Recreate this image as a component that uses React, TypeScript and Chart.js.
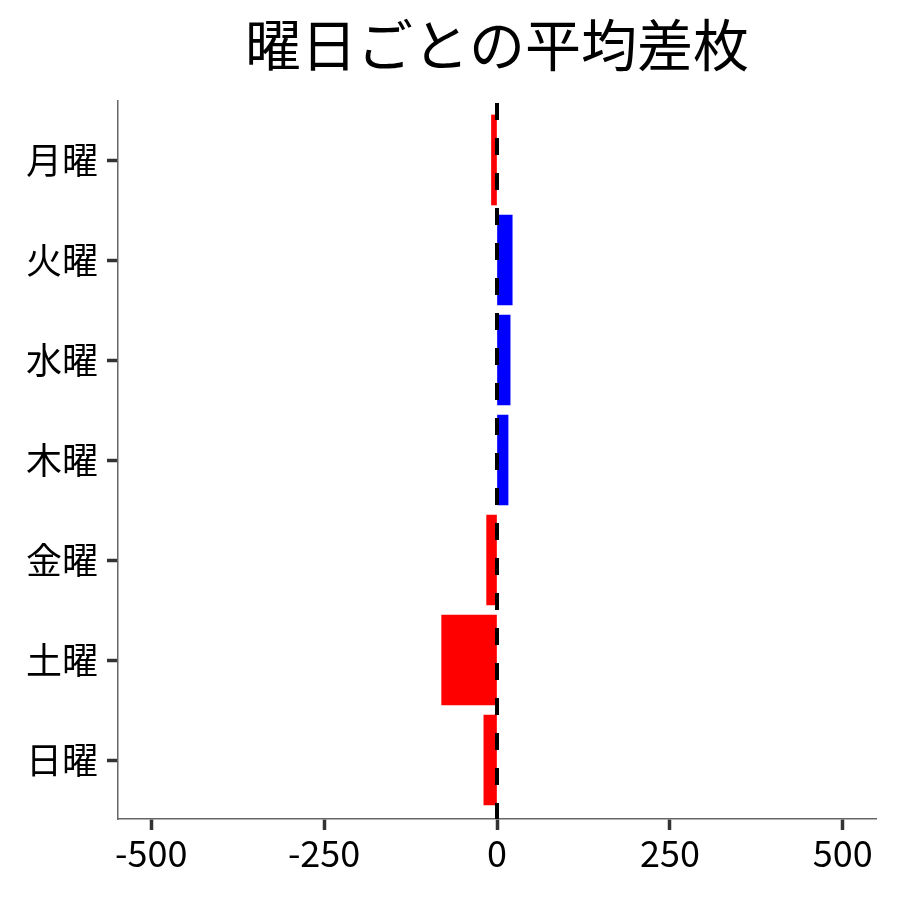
import { useEffect, useRef } from "react"
import { Chart, registerables } from "chart.js"

Chart.register(...registerables)

// Data
const days = ["月曜", "火曜", "水曜", "木曜", "金曜", "土曜", "日曜"]
const avgDiff = [-8, 22, 19, 16, -15, -80, -19]
const xTicks = [-500, -250, 0, 250, 500]
const titleText = "曜日ごとの平均差枚"

const FONT = "'Noto Sans CJK JP', 'Noto Sans', sans-serif"

// dashed zero line drawn on top of the bars
const zeroLine = {
  id: "zeroLine",
  afterDatasetsDraw(chart: any) {
    const { ctx, chartArea, scales } = chart
    const x = scales.x.getPixelForValue(0)
    ctx.save()
    ctx.strokeStyle = "#000"
    ctx.lineWidth = 4
    ctx.setLineDash([17, 18])
    ctx.lineDashOffset = -6
    ctx.beginPath()
    ctx.moveTo(x, chartArea.top - 4)
    ctx.lineTo(x, chartArea.bottom)
    ctx.stroke()
    ctx.restore()
  },
}

// title centred over the plot area rather than the canvas
const plotTitle = {
  id: "plotTitle",
  afterDraw(chart: any) {
    const { ctx, chartArea } = chart
    ctx.save()
    ctx.fillStyle = "#000"
    ctx.font = `56px ${FONT}`
    ctx.textAlign = "center"
    ctx.textBaseline = "middle"
    ctx.fillText(titleText, (chartArea.left + chartArea.right) / 2, 45)
    ctx.restore()
  },
}

export default function App() {
  const chartRef = useRef<HTMLCanvasElement>(null)
  const chartInstance = useRef<Chart | null>(null)

  useEffect(() => {
    document.body.style.margin = "0"
    if (!chartRef.current) return
    if (chartInstance.current) chartInstance.current.destroy()

    const ctx = chartRef.current.getContext("2d")
    if (!ctx) return

    chartInstance.current = new Chart(ctx, {
      type: "bar",
      data: {
        datasets: [
          {
            data: avgDiff.map((v, i) => ({ x: v, y: i })),
            backgroundColor: avgDiff.map((v) => (v < 0 ? "#ff0000" : "#0000ff")),
            borderWidth: 0,
            barThickness: 90,
          },
        ],
      },
      options: {
        indexAxis: "y",
        responsive: false,
        animation: false,
        layout: { padding: { left: 0, right: 24, top: 101, bottom: 0 } },
        plugins: {
          legend: { display: false },
          tooltip: { enabled: false },
          title: { display: false },
        },
        scales: {
          x: {
            type: "linear",
            min: -548,
            max: 548,
            afterBuildTicks: (scale: any) => {
              scale.ticks = xTicks.map((v) => ({ value: v }))
            },
            afterFit: (scale: any) => {
              scale.height = 81
            },
            grid: {
              drawOnChartArea: false,
              drawTicks: true,
              tickLength: 11,
              tickColor: "#333",
              tickWidth: 3.5,
            },
            border: { color: "#666", width: 1.5 },
            ticks: {
              color: "#000",
              padding: 2,
              font: { family: FONT, size: 36 },
              callback: (v: any) => String(v),
            },
          },
          y: {
            type: "linear",
            reverse: true,
            offset: false,
            min: -0.59,
            max: 6.59,
            afterBuildTicks: (scale: any) => {
              scale.ticks = days.map((_, i) => ({ value: i }))
            },
            afterFit: (scale: any) => {
              scale.width = 118
            },
            grid: {
              offset: false,
              drawOnChartArea: false,
              drawTicks: true,
              tickLength: 11,
              tickColor: "#333",
              tickWidth: 3.5,
            },
            border: { color: "#666", width: 1.5 },
            ticks: {
              color: "#000",
              padding: 9,
              font: { family: FONT, size: 36 },
              callback: (v: any) => days[v] ?? "",
            },
          },
        },
      },
      plugins: [zeroLine, plotTitle],
    } as any)

    return () => {
      if (chartInstance.current) {
        chartInstance.current.destroy()
        chartInstance.current = null
      }
    }
  }, [])

  return (
    <div style={{ width: 900, height: 900, background: "#fff" }}>
      <canvas ref={chartRef} width={900} height={900} />
    </div>
  )
}
